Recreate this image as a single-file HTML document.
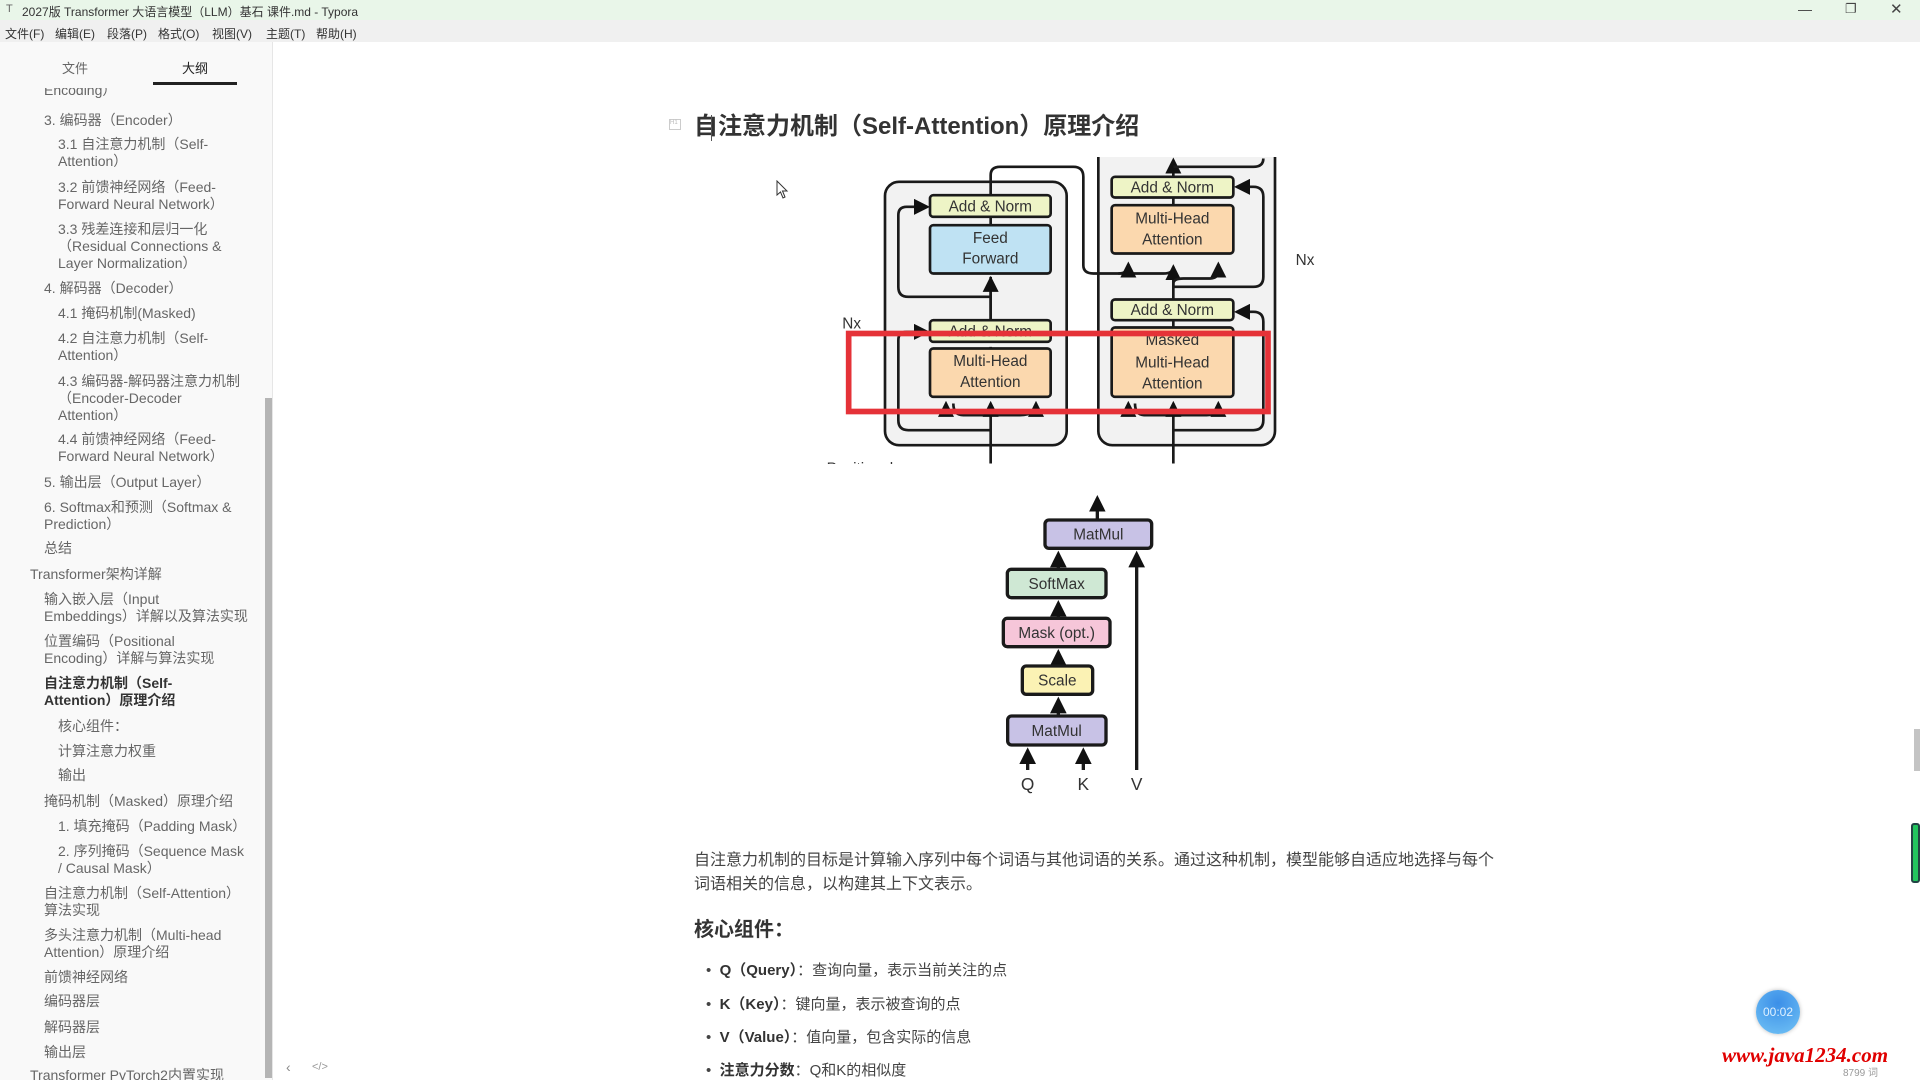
<!DOCTYPE html>
<html><head><meta charset="utf-8">
<style>
*{margin:0;padding:0;box-sizing:border-box}
body{width:1920px;height:1080px;overflow:hidden;background:#fff;font-family:"Liberation Sans","Noto Sans CJK SC",sans-serif;position:relative;color:#333}
.a{position:absolute;white-space:nowrap}
#title{left:0;top:0;width:1920px;height:20px;background:#e9f6e9}
#menu{left:0;top:20px;width:1920px;height:22px;background:#f0f0f0}
#side{left:0;top:42px;width:273px;height:1038px;background:#f9f9f9;border-right:1px solid #e6e6e6;overflow:hidden}
.s{position:absolute;white-space:nowrap;font-size:14px;line-height:16px;color:#666}
.b{font-weight:bold;color:#333}
</style></head><body>
<div class="a" id="title"></div>
<div class="a" style="left:6px;top:3px;font-size:11px;color:#666">T</div>
<div class="a" style="left:22px;top:3px;font-size:12px;color:#333">2027版 Transformer 大语言模型（LLM）基石 课件.md - Typora</div>
<div class="a" style="left:1798px;top:1px;font-size:14px;color:#444">—</div>
<div class="a" style="left:1845px;top:1px;font-size:13px;color:#444">❐</div>
<div class="a" style="left:1890px;top:0px;font-size:15px;color:#444">✕</div>
<div class="a" id="menu"></div>
<div class="a" style="left:5px;top:25px;font-size:12px;color:#333">文件(F)</div>
<div class="a" style="left:55px;top:25px;font-size:12px;color:#333">编辑(E)</div>
<div class="a" style="left:107px;top:25px;font-size:12px;color:#333">段落(P)</div>
<div class="a" style="left:158px;top:25px;font-size:12px;color:#333">格式(O)</div>
<div class="a" style="left:212px;top:25px;font-size:12px;color:#333">视图(V)</div>
<div class="a" style="left:266px;top:25px;font-size:12px;color:#333">主题(T)</div>
<div class="a" style="left:316px;top:25px;font-size:12px;color:#333">帮助(H)</div>

<div class="a" id="side">
<div class="s" style="left:62px;top:19px;font-size:13px">文件</div>
<div class="s" style="left:182px;top:19px;font-size:13px;color:#222">大纲</div>
<div style="position:absolute;left:153px;top:40px;width:84px;height:3px;background:#222"></div>
<div style="position:absolute;left:0;top:46px;width:265px;height:1000px;overflow:hidden">
<div class="s" style="left:44px;top:-6px">Encoding）</div>
<div class="s" style="left:44px;top:24px">3. 编码器（Encoder）</div>
<div class="s" style="left:58px;top:48px">3.1 自注意力机制（Self-</div>
<div class="s" style="left:58px;top:65px">Attention）</div>
<div class="s" style="left:58px;top:91px">3.2 前馈神经网络（Feed-</div>
<div class="s" style="left:58px;top:108px">Forward Neural Network）</div>
<div class="s" style="left:58px;top:133px">3.3 残差连接和层归一化</div>
<div class="s" style="left:58px;top:150px">（Residual Connections &amp;</div>
<div class="s" style="left:58px;top:167px">Layer Normalization）</div>
<div class="s" style="left:44px;top:192px">4. 解码器（Decoder）</div>
<div class="s" style="left:58px;top:217px">4.1 掩码机制(Masked)</div>
<div class="s" style="left:58px;top:242px">4.2 自注意力机制（Self-</div>
<div class="s" style="left:58px;top:259px">Attention）</div>
<div class="s" style="left:58px;top:285px">4.3 编码器-解码器注意力机制</div>
<div class="s" style="left:58px;top:302px">（Encoder-Decoder</div>
<div class="s" style="left:58px;top:319px">Attention）</div>
<div class="s" style="left:58px;top:343px">4.4 前馈神经网络（Feed-</div>
<div class="s" style="left:58px;top:360px">Forward Neural Network）</div>
<div class="s" style="left:44px;top:386px">5. 输出层（Output Layer）</div>
<div class="s" style="left:44px;top:411px">6. Softmax和预测（Softmax &amp;</div>
<div class="s" style="left:44px;top:428px">Prediction）</div>
<div class="s" style="left:44px;top:452px">总结</div>
<div class="s" style="left:30px;top:478px">Transformer架构详解</div>
<div class="s" style="left:44px;top:503px">输入嵌入层（Input</div>
<div class="s" style="left:44px;top:520px">Embeddings）详解以及算法实现</div>
<div class="s" style="left:44px;top:545px">位置编码（Positional</div>
<div class="s" style="left:44px;top:562px">Encoding）详解与算法实现</div>
<div class="s b" style="left:44px;top:587px">自注意力机制（Self-</div>
<div class="s b" style="left:44px;top:604px">Attention）原理介绍</div>
<div class="s" style="left:58px;top:630px">核心组件：</div>
<div class="s" style="left:58px;top:655px">计算注意力权重</div>
<div class="s" style="left:58px;top:679px">输出</div>
<div class="s" style="left:44px;top:705px">掩码机制（Masked）原理介绍</div>
<div class="s" style="left:58px;top:730px">1. 填充掩码（Padding Mask）</div>
<div class="s" style="left:58px;top:755px">2. 序列掩码（Sequence Mask</div>
<div class="s" style="left:58px;top:772px">/ Causal Mask）</div>
<div class="s" style="left:44px;top:797px">自注意力机制（Self-Attention）</div>
<div class="s" style="left:44px;top:814px">算法实现</div>
<div class="s" style="left:44px;top:839px">多头注意力机制（Multi-head</div>
<div class="s" style="left:44px;top:856px">Attention）原理介绍</div>
<div class="s" style="left:44px;top:881px">前馈神经网络</div>
<div class="s" style="left:44px;top:905px">编码器层</div>
<div class="s" style="left:44px;top:931px">解码器层</div>
<div class="s" style="left:44px;top:956px">输出层</div>
<div class="s" style="left:30px;top:979px">Transformer PyTorch2内置实现</div>
</div>
<div style="position:absolute;left:265px;top:356px;width:7px;height:680px;background:#b5b5b5"></div>
</div>
<div class="a" style="left:286px;top:1059px;font-size:14px;color:#888">‹</div>
<div class="a" style="left:312px;top:1061px;font-size:11px;color:#999">&lt;/&gt;</div>

<div class="a" style="left:669px;top:119px;width:12px;height:11px;border:1px solid #ccc;font-size:6px;color:#bbb">H1</div>
<div class="a" style="left:694px;top:112px;font-size:24px;font-weight:bold;color:#333;line-height:30px">自注意力机制（Self-Attention）原理介绍</div>
<div class="a" style="left:711px;top:115px;width:1px;height:26px;background:#555"></div>

<svg class="a" style="left:776px;top:180px" width="14" height="20" viewBox="0 0 14 20"><path d="M1 1 L1 15 L4.5 12 L7 18 L9 17 L6.5 11 L11 11 Z" fill="#fff" stroke="#333" stroke-width="1"/></svg>

<svg class="a" style="left:820px;top:157px" width="520" height="307" viewBox="0 51 1560 920">
<defs><marker id="ar" markerWidth="6" markerHeight="6" refX="5" refY="3" orient="auto" markerUnits="strokeWidth"><path d="M0,0 L6,3 L0,6 z" fill="#111"/></marker></defs>
<g fill="none" stroke="#1a1a1a" stroke-width="8">
<rect x="195" y="125" width="545" height="790" rx="42" fill="#f2f2f2"/>
<rect x="835" y="-40" width="530" height="955" rx="42" fill="#f2f2f2"/>
<path d="M512 970 V790"/>
<path d="M512 770 V620 M512 540 V410" />
<path d="M512 540 V415" marker-end="url(#ar)"/>
<path d="M512 255 V230"/>
<path d="M400 790 Q400 825 430 825 H600 Q648 825 648 790" />
<path d="M378 825 V790" marker-end="url(#ar)"/><path d="M512 825 V790" marker-end="url(#ar)"/><path d="M648 825 V790" marker-end="url(#ar)"/>
<path d="M512 470 H265 Q235 470 235 440 V225 Q235 200 260 200 H322" marker-end="url(#ar)"/>
<path d="M512 870 H265 Q235 870 235 840 V600 Q235 575 260 575 H322" marker-end="url(#ar)"/>
<path d="M512 165 V105 Q512 80 540 80 H760 Q790 80 790 110 V375 Q790 400 820 400 H1030 Q1060 400 1060 380"/>
<path d="M895 400 Q925 400 925 375 V372" marker-end="url(#ar)"/>
<path d="M1060 970 V790"/>
<path d="M945 790 Q945 825 975 825 H1160 Q1195 825 1195 790"/>
<path d="M925 825 V790" marker-end="url(#ar)"/><path d="M1060 825 V790" marker-end="url(#ar)"/><path d="M1195 825 V790" marker-end="url(#ar)"/>
<path d="M1060 870 H1300 Q1330 870 1330 840 V545 Q1330 515 1300 515 H1250" marker-end="url(#ar)"/>
<path d="M1060 562 V540"/>
<path d="M1060 478 V380" marker-end="url(#ar)"/>
<path d="M1060 440 H1300 Q1330 440 1330 410 V170 Q1330 140 1300 140 H1250" marker-end="url(#ar)"/>
<path d="M1060 440 V430 Q1060 415 1090 415 H1170 Q1195 415 1195 390 V372" marker-end="url(#ar)"/>
<path d="M1060 195 V172"/>
<path d="M1060 110 V60" marker-end="url(#ar)"/>
<path d="M1330 55 Q1330 80 1300 80 H1060"/>
</g>
<g stroke="#1a1a1a" stroke-width="8">
<rect x="330" y="165" width="362" height="65" rx="10" fill="#eef4c6"/>
<rect x="330" y="255" width="362" height="145" rx="10" fill="#bfe2f3"/>
<rect x="330" y="540" width="362" height="65" rx="10" fill="#eef4c6"/>
<rect x="330" y="625" width="362" height="145" rx="10" fill="#fbd8ae"/>
<rect x="875" y="110" width="365" height="62" rx="10" fill="#eef4c6"/>
<rect x="875" y="195" width="365" height="145" rx="10" fill="#fbd8ae"/>
<rect x="875" y="478" width="365" height="62" rx="10" fill="#eef4c6"/>
<rect x="875" y="562" width="365" height="208" rx="10" fill="#fbd8ae"/>
</g>
<g font-family="Liberation Sans,sans-serif" font-size="46" fill="#333" text-anchor="middle">
<text x="511" y="214">Add &amp; Norm</text>
<text x="511" y="308">Feed</text><text x="511" y="370">Forward</text>
<text x="511" y="589">Add &amp; Norm</text>
<text x="511" y="678">Multi-Head</text><text x="511" y="740">Attention</text>
<text x="1057" y="157">Add &amp; Norm</text>
<text x="1057" y="250">Multi-Head</text><text x="1057" y="313">Attention</text>
<text x="1057" y="525">Add &amp; Norm</text>
<text x="1057" y="615">Masked</text><text x="1057" y="682">Multi-Head</text><text x="1057" y="745">Attention</text>
<text x="95" y="565">Nx</text>
<text x="1455" y="375">Nx</text>
<text x="20" y="1000" text-anchor="start">Positional</text>
</g>
<rect x="86" y="580" width="1258" height="234" fill="none" stroke="#e53238" stroke-width="17"/>
</svg>

<svg class="a" style="left:980px;top:480px" width="200" height="320" viewBox="0 0 600 960">
<defs><marker id="ar2" markerWidth="5" markerHeight="5" refX="4" refY="2.5" orient="auto" markerUnits="strokeWidth"><path d="M0,0 L5,2.5 L0,5 z" fill="#111"/></marker></defs>
<g fill="none" stroke="#1a1a1a" stroke-width="10">
<path d="M352 120 V55" marker-end="url(#ar2)"/>
<path d="M235 268 V222" marker-end="url(#ar2)"/>
<path d="M235 415 V370" marker-end="url(#ar2)"/>
<path d="M235 558 V517" marker-end="url(#ar2)"/>
<path d="M235 708 V660" marker-end="url(#ar2)"/>
<path d="M143 870 V812" marker-end="url(#ar2)"/>
<path d="M310 870 V812" marker-end="url(#ar2)"/>
<path d="M470 870 V222" marker-end="url(#ar2)"/>
</g>
<g stroke="#1a1a1a" stroke-width="10">
<rect x="195" y="120" width="320" height="85" rx="12" fill="#c8c2e6"/>
<rect x="82" y="268" width="296" height="85" rx="12" fill="#cfe8d4"/>
<rect x="70" y="415" width="320" height="85" rx="12" fill="#f6c6d9"/>
<rect x="127" y="558" width="211" height="85" rx="12" fill="#fbf2b4"/>
<rect x="83" y="708" width="295" height="87" rx="12" fill="#c8c2e6"/>
</g>
<g font-family="Liberation Sans,sans-serif" font-size="46" fill="#333" text-anchor="middle">
<text x="355" y="178">MatMul</text>
<text x="230" y="327">SoftMax</text>
<text x="230" y="474">Mask (opt.)</text>
<text x="232" y="617">Scale</text>
<text x="230" y="768">MatMul</text>
<text x="143" y="930" font-size="52">Q</text>
<text x="310" y="930" font-size="52">K</text>
<text x="470" y="930" font-size="52">V</text>
</g>
</svg>

<div class="a" style="left:694px;top:849px;font-size:16px;line-height:24px;color:#444">自注意力机制的目标是计算输入序列中每个词语与其他词语的关系。通过这种机制，模型能够自适应地选择与每个</div>
<div class="a" style="left:694px;top:873px;font-size:16px;line-height:24px;color:#444">词语相关的信息，以构建其上下文表示。</div>
<div class="a" style="left:694px;top:916px;font-size:20px;font-weight:bold;color:#333;line-height:28px">核心组件：</div>
<div class="a" style="left:706px;top:959px;font-size:15px;line-height:24px;color:#444">•&nbsp;&nbsp;<b style="color:#333">Q（Query）</b>：查询向量，表示当前关注的点</div>
<div class="a" style="left:706px;top:993px;font-size:15px;line-height:24px;color:#444">•&nbsp;&nbsp;<b style="color:#333">K（Key）</b>：键向量，表示被查询的点</div>
<div class="a" style="left:706px;top:1026px;font-size:15px;line-height:24px;color:#444">•&nbsp;&nbsp;<b style="color:#333">V（Value）</b>：值向量，包含实际的信息</div>
<div class="a" style="left:706px;top:1059px;font-size:15px;line-height:24px;color:#444">•&nbsp;&nbsp;<b style="color:#333">注意力分数</b>：Q和K的相似度</div>

<div class="a" style="left:1914px;top:729px;width:6px;height:42px;background:#c4c4c4"></div>
<div class="a" style="left:1911px;top:823px;width:9px;height:60px;background:#22c55e;border:2px solid #244;border-radius:3px"></div>
<div class="a" style="left:1756px;top:990px;width:44px;height:44px;border-radius:50%;background:radial-gradient(circle at 50% 30%,#3b8fe8,#72c3f5);box-shadow:0 0 4px #bbb;color:#dff1ff;font-size:12px;text-align:center;line-height:44px">00:02</div>
<div class="a" style="left:1722px;top:1043px;font-family:'Liberation Serif',serif;font-style:italic;font-weight:bold;font-size:21px;color:#e00000">www.java1234.com</div>
<div class="a" style="left:1843px;top:1064px;font-size:10px;color:#999">8799 词</div>
</body></html>
